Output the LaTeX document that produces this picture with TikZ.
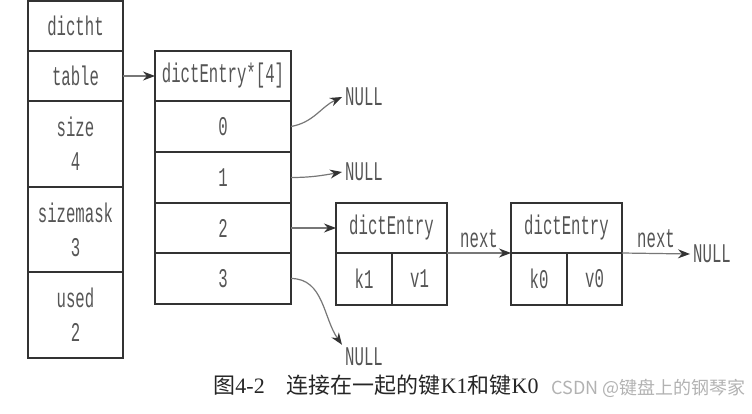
\documentclass[tikz,border=0pt]{standalone}
\usepackage{fontspec}
\setmainfont{Liberation Serif}
\newfontfamily\codefont[FakeStretch=0.58]{Liberation Mono}
\newfontfamily\cjk{Noto Sans CJK SC}
\usetikzlibrary{positioning,arrows.meta}
\definecolor{boxline}{HTML}{333333}
\definecolor{codegray}{HTML}{555555}
\definecolor{ptrgray}{HTML}{777777}

\tikzset{
  cell/.style={draw=boxline, line width=2pt, outer sep=0pt, inner sep=0pt,
    text=codegray, align=center, font=\codefont\fontsize{27}{34}\selectfont},
  plain/.style={text=codegray, inner sep=3pt, font=\codefont\fontsize{27}{34}\selectfont},
  ptr/.style={draw=ptrgray, line width=1.2pt,
    -{Stealth[length=12pt,width=9pt,color=boxline]}},
}

\begin{document}
\begin{tikzpicture}[x=1pt,y=1pt]
  \useasboundingbox (0,0) rectangle (752,-414);

  % dictht
  \node[cell, name=dictht, minimum width=95, minimum height=50] at (75.5,-26) {dictht};
  \node[cell, name=table, minimum width=95, minimum height=50, below=0pt of dictht] {table};
  \node[cell, name=size, minimum width=95, minimum height=86, below=0pt of table] {size\\4};
  \node[cell, name=sizemask, minimum width=95, minimum height=85, below=0pt of size] {sizemask\\3};
  \node[cell, name=used, minimum width=95, minimum height=86, below=0pt of sizemask] {used\\2};

  % table array
  \node[cell, name=arr, minimum width=136, minimum height=50] at (223,-76) {dictEntry*[4]};
  \node[cell, name=r0, minimum width=136, minimum height=51, below=0pt of arr] {0};
  \node[cell, name=r1, minimum width=136, minimum height=51, below=0pt of r0] {1};
  \node[cell, name=r2, minimum width=136, minimum height=50, below=0pt of r1] {2};
  \node[cell, name=r3, minimum width=136, minimum height=51, below=0pt of r2] {3};

  % entries
  \node[cell, name=ent1, minimum width=111, minimum height=50] at (391.5,-228) {dictEntry};
  \node[cell, name=k1, minimum width=56, minimum height=52, below right=0pt and 0pt of ent1.south west] {k1};
  \node[cell, name=v1, minimum width=55, minimum height=52, right=0pt of k1] {v1};

  \node[cell, name=ent2, minimum width=111, minimum height=50] at (566.5,-228) {dictEntry};
  \node[cell, name=k0, minimum width=56, minimum height=52, below right=0pt and 0pt of ent2.south west] {k0};
  \node[cell, name=v0, minimum width=55, minimum height=52, right=0pt of k0] {v0};

  % NULLs
  \node[plain, name=null0] at (364,-97) {NULL};
  \node[plain, name=null1] at (364,-172) {NULL};
  \node[plain, name=null3] at (364,-357) {NULL};
  \node[plain, name=null4] at (712,-254) {NULL};

  \path
     (table) edge[ptr] (arr)
     (r0.east) edge[ptr, out=10, in=205] (null0.west)
     (r1.east) edge[ptr, out=0, in=190] (null1.west)
     (r2) edge[ptr] (ent1)
     (r3.east) edge[ptr, out=0, in=125] (null3.north west);
  \draw[ptr] (ent1.south east) -- node[plain, above=2pt] {next} (ent2.south west);
  \draw[ptr] (ent2.south east) -- node[plain, above=2pt] {next} (null4.west);

  % caption
  \node[name=caption, text=black!85, font=\fontsize{22}{26}\selectfont] at (376,-385)
    {{\cjk 图}4-2\hspace{1em}{\cjk 连接在一起的键}K1{\cjk 和键}K0};
  \node[name=mark, text=black!30, font=\cjk\fontsize{18}{22}\selectfont, anchor=west] at (548,-388)
    {CSDN @键盘上的钢琴家};
\end{tikzpicture}
\end{document}
